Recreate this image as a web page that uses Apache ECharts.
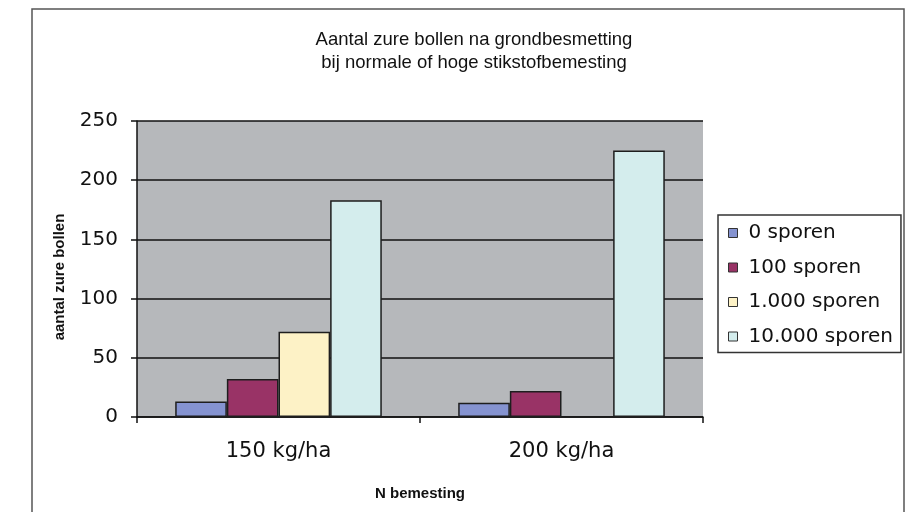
<!DOCTYPE html>
<html>
<head>
<meta charset="utf-8">
<script src="https://cdn.jsdelivr.net/npm/echarts@6/dist/echarts.min.js"></script>
<style>
  html,body{margin:0;padding:0;background:#fff;}
  #chart{width:916px;height:512px;}
</style>
</head>
<body>
<div id="chart"></div>
<script>
// data
var categories = ['150 kg/ha', '200 kg/ha'];
var seriesNames = ['0 sporen', '100 sporen', '1.000 sporen', '10.000 sporen'];
var sporen0 = [13, 12];
var sporen100 = [32, 22];
var sporen1000 = [72, null];
var sporen10000 = [183, 225];
var yTicks = [0, 50, 100, 150, 200, 250];

var colors = ['#8593d0', '#993366', '#fdf2c6', '#d4eded'];
var values = [sporen0, sporen100, sporen1000, sporen10000];

var wideFont = 'DejaVu Sans, Liberation Sans, sans-serif';

var chart = echarts.init(document.getElementById('chart'));

var series = [];
for (var i = 0; i < seriesNames.length; i++) {
    series.push({
        name: seriesNames[i],
        type: 'bar',
        data: values[i],
        barGap: '0%',
        barCategoryGap: '27%',
        itemStyle: {
            color: colors[i],
            borderColor: '#1e1e1e',
            borderWidth: 1.5
        }
    });
}

var option = {
    animation: false,
    textStyle: {fontFamily: 'Liberation Sans, Arial, sans-serif'},
    title: {
        text: 'Aantal zure bollen na grondbesmetting\nbij normale of hoge stikstofbemesting',
        left: 469,
        textAlign: 'center',
        top: 23,
        textStyle: {
            fontSize: 18.5,
            fontWeight: 'normal',
            color: '#111',
            lineHeight: 23
        }
    },
    graphic: [{
        type: 'rect',
        shape: {x: 32, y: 9, width: 872, height: 530},
        style: {fill: 'none', stroke: '#555', lineWidth: 1.5},
        silent: true
    }],
    legend: {
        orient: 'vertical',
        left: 718,
        top: 215,
        padding: [8, 8, 6, 10],
        borderColor: '#333',
        borderWidth: 1.5,
        itemWidth: 9,
        itemHeight: 9,
        itemGap: 14.5,
        icon: 'rect',
        itemStyle: {borderColor: '#333', borderWidth: 1},
        textStyle: {fontFamily: wideFont, fontSize: 20, color: '#111', padding: [0, 0, 0, 6]},
        data: seriesNames
    },
    grid: {
        left: 137,
        top: 121,
        right: 213,
        bottom: 95,
        show: true,
        backgroundColor: '#b6b8bb',
        borderWidth: 0
    },
    xAxis: {
        type: 'category',
        data: categories,
        boundaryGap: true,
        name: 'N bemesting',
        nameLocation: 'middle',
        nameGap: 69,
        nameTextStyle: {fontSize: 15, fontWeight: 'bold', color: '#111'},
        axisLine: {lineStyle: {color: '#111', width: 1.5}},
        axisTick: {show: true, length: 6, lineStyle: {color: '#111', width: 1.5}},
        axisLabel: {fontFamily: wideFont, fontSize: 21, color: '#111', margin: 24}
    },
    yAxis: {
        type: 'value',
        min: yTicks[0],
        max: yTicks[yTicks.length - 1],
        interval: 50,
        name: 'aantal zure bollen',
        nameLocation: 'middle',
        nameGap: 70,
        nameRotate: 90,
        nameTextStyle: {fontSize: 15, fontWeight: 'bold', color: '#111', padding: [0, 16, 0, 0]},
        axisLine: {show: true, lineStyle: {color: '#111', width: 1.5}},
        axisTick: {show: true, length: 6, lineStyle: {color: '#111', width: 1.5}},
        axisLabel: {fontFamily: wideFont, fontSize: 20, color: '#111', margin: 19},
        splitLine: {show: true, lineStyle: {color: '#111', width: 1.5}}
    },
    series: series
};

chart.setOption(option);
</script>
</body>
</html>
